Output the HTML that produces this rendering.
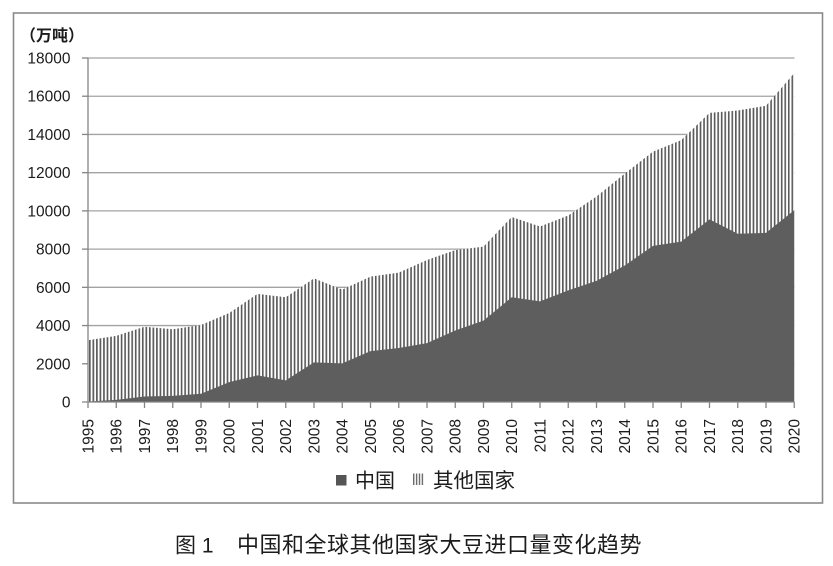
<!DOCTYPE html>
<html>
<head>
<meta charset="utf-8">
<style>
  html, body { margin:0; padding:0; background:#ffffff; }
  body { width:833px; height:566px; overflow:hidden; }
  svg { display:block; }
  .ax { font-family:"Liberation Sans","Noto Sans CJK SC",sans-serif; font-size:15.5px; fill:#1c1c1c; }
  .cjk { font-family:"Liberation Sans","Noto Sans CJK SC",sans-serif; fill:#1c1c1c; }
</style>
</head>
<body>
<svg width="833" height="566" viewBox="0 0 833 566" xmlns="http://www.w3.org/2000/svg">
  <defs>
    <pattern id="vs" patternUnits="userSpaceOnUse" x="89" y="0" width="3.53" height="10">
      <rect x="0" y="0" width="3.53" height="10" fill="#ffffff"/>
      <rect x="0" y="0" width="1.65" height="10" fill="#5a5a5a"/>
    </pattern>
    <pattern id="vsl" patternUnits="userSpaceOnUse" x="413" y="0" width="2.9" height="10">
      <rect x="0" y="0" width="2.9" height="10" fill="#ffffff"/>
      <rect x="0" y="0" width="1.4" height="10" fill="#6a6a6a"/>
    </pattern>
  </defs>

  <!-- outer frame -->
  <rect x="13.5" y="13" width="809" height="490" fill="#ffffff" stroke="#8a8a8a" stroke-width="1.6"/>

  <!-- unit label -->
  <text x="20" y="41" class="cjk" font-size="16" font-weight="bold">（万吨）</text>

  <!-- gridlines -->
  <g stroke="#a3a3a3" stroke-width="1.3">
    <line x1="88" y1="58" x2="794.5" y2="58"/>
    <line x1="88" y1="96.22" x2="794.5" y2="96.22"/>
    <line x1="88" y1="134.44" x2="794.5" y2="134.44"/>
    <line x1="88" y1="172.67" x2="794.5" y2="172.67"/>
    <line x1="88" y1="210.89" x2="794.5" y2="210.89"/>
    <line x1="88" y1="249.11" x2="794.5" y2="249.11"/>
    <line x1="88" y1="287.33" x2="794.5" y2="287.33"/>
    <line x1="88" y1="325.56" x2="794.5" y2="325.56"/>
    <line x1="88" y1="363.78" x2="794.5" y2="363.78"/>
  </g>

  <!-- other countries (stacked total) -->
  <polygon fill="url(#vs)" points="88,402 88,340.27 116.25,335.88 144.5,326.70 172.75,329.19 201,324.98 229.25,312.94 257.5,293.83 285.75,297.27 314,278.35 342.25,289.63 370.5,276.63 398.75,272.62 427,260.01 455.25,250.07 483.5,246.63 511.75,217.00 540,226.56 568.25,215.48 596.5,196.56 624.75,173.62 653,151.64 681.25,140.18 709.5,112.85 737.75,110.56 766,105.78 794.25,73.10 794.25,402"/>

  <!-- China -->
  <polygon fill="#5e5e5e" points="88,402 88,401.45 116.25,399.88 144.5,396.50 172.75,395.88 201,393.74 229.25,382.09 257.5,375.36 285.75,380.37 314,362.36 342.25,363.34 370.5,351.18 398.75,347.97 427,343.10 455.25,330.45 483.5,320.68 511.75,297.27 540,301.40 568.25,290.43 596.5,280.87 624.75,265.55 653,245.88 681.25,241.64 709.5,219.43 737.75,233.77 766,232.85 794.25,210.26 794.25,402"/>

  <!-- axes -->
  <g stroke="#858585" stroke-width="1.3">
    <line x1="88" y1="58" x2="88" y2="402"/>
    <line x1="82" y1="402" x2="794.5" y2="402"/>
    <line x1="82" y1="58" x2="88" y2="58"/>
    <line x1="82" y1="96.22" x2="88" y2="96.22"/>
    <line x1="82" y1="134.44" x2="88" y2="134.44"/>
    <line x1="82" y1="172.67" x2="88" y2="172.67"/>
    <line x1="82" y1="210.89" x2="88" y2="210.89"/>
    <line x1="82" y1="249.11" x2="88" y2="249.11"/>
    <line x1="82" y1="287.33" x2="88" y2="287.33"/>
    <line x1="82" y1="325.56" x2="88" y2="325.56"/>
    <line x1="82" y1="363.78" x2="88" y2="363.78"/>
  </g>
  <g stroke="#858585" stroke-width="1.3">
    <line x1="88" y1="402" x2="88" y2="408"/>
    <line x1="116.25" y1="402" x2="116.25" y2="408"/>
    <line x1="144.5" y1="402" x2="144.5" y2="408"/>
    <line x1="172.75" y1="402" x2="172.75" y2="408"/>
    <line x1="201" y1="402" x2="201" y2="408"/>
    <line x1="229.25" y1="402" x2="229.25" y2="408"/>
    <line x1="257.5" y1="402" x2="257.5" y2="408"/>
    <line x1="285.75" y1="402" x2="285.75" y2="408"/>
    <line x1="314" y1="402" x2="314" y2="408"/>
    <line x1="342.25" y1="402" x2="342.25" y2="408"/>
    <line x1="370.5" y1="402" x2="370.5" y2="408"/>
    <line x1="398.75" y1="402" x2="398.75" y2="408"/>
    <line x1="427" y1="402" x2="427" y2="408"/>
    <line x1="455.25" y1="402" x2="455.25" y2="408"/>
    <line x1="483.5" y1="402" x2="483.5" y2="408"/>
    <line x1="511.75" y1="402" x2="511.75" y2="408"/>
    <line x1="540" y1="402" x2="540" y2="408"/>
    <line x1="568.25" y1="402" x2="568.25" y2="408"/>
    <line x1="596.5" y1="402" x2="596.5" y2="408"/>
    <line x1="624.75" y1="402" x2="624.75" y2="408"/>
    <line x1="653" y1="402" x2="653" y2="408"/>
    <line x1="681.25" y1="402" x2="681.25" y2="408"/>
    <line x1="709.5" y1="402" x2="709.5" y2="408"/>
    <line x1="737.75" y1="402" x2="737.75" y2="408"/>
    <line x1="766" y1="402" x2="766" y2="408"/>
    <line x1="794.25" y1="402" x2="794.25" y2="408"/>
  </g>

  <!-- y labels -->
  <g class="ax" text-anchor="end">
    <text x="70.5" y="63.5">18000</text>
    <text x="70.5" y="101.7">16000</text>
    <text x="70.5" y="139.9">14000</text>
    <text x="70.5" y="178.2">12000</text>
    <text x="70.5" y="216.4">10000</text>
    <text x="70.5" y="254.6">8000</text>
    <text x="70.5" y="292.8">6000</text>
    <text x="70.5" y="331.1">4000</text>
    <text x="70.5" y="369.3">2000</text>
    <text x="70.5" y="407.5">0</text>
  </g>

  <!-- x labels (rotated) -->
  <g class="ax" text-anchor="end" font-size="15">
    <text transform="translate(93.4,419) rotate(-90)">1995</text>
    <text transform="translate(121.65,419) rotate(-90)">1996</text>
    <text transform="translate(149.9,419) rotate(-90)">1997</text>
    <text transform="translate(178.15,419) rotate(-90)">1998</text>
    <text transform="translate(206.4,419) rotate(-90)">1999</text>
    <text transform="translate(234.65,419) rotate(-90)">2000</text>
    <text transform="translate(262.9,419) rotate(-90)">2001</text>
    <text transform="translate(291.15,419) rotate(-90)">2002</text>
    <text transform="translate(319.4,419) rotate(-90)">2003</text>
    <text transform="translate(347.65,419) rotate(-90)">2004</text>
    <text transform="translate(375.9,419) rotate(-90)">2005</text>
    <text transform="translate(404.15,419) rotate(-90)">2006</text>
    <text transform="translate(432.4,419) rotate(-90)">2007</text>
    <text transform="translate(460.65,419) rotate(-90)">2008</text>
    <text transform="translate(488.9,419) rotate(-90)">2009</text>
    <text transform="translate(517.15,419) rotate(-90)">2010</text>
    <text transform="translate(545.4,419) rotate(-90)">2011</text>
    <text transform="translate(573.65,419) rotate(-90)">2012</text>
    <text transform="translate(601.9,419) rotate(-90)">2013</text>
    <text transform="translate(630.15,419) rotate(-90)">2014</text>
    <text transform="translate(658.4,419) rotate(-90)">2015</text>
    <text transform="translate(686.65,419) rotate(-90)">2016</text>
    <text transform="translate(714.9,419) rotate(-90)">2017</text>
    <text transform="translate(743.15,419) rotate(-90)">2018</text>
    <text transform="translate(771.4,419) rotate(-90)">2019</text>
    <text transform="translate(799.65,419) rotate(-90)">2020</text>
  </g>

  <!-- legend -->
  <rect x="336" y="475" width="10.5" height="10.5" fill="#555555"/>
  <text x="355" y="487.5" class="cjk" font-size="20">中国</text>
  <rect x="413" y="473.5" width="11.5" height="11.5" fill="url(#vsl)"/>
  <text x="433" y="487.5" class="cjk" font-size="20.5">其他国家</text>

  <!-- caption -->
  <text x="175" y="552.5" class="cjk" font-size="21" fill="#1a1a1a">图 1</text>
  <text x="237" y="552.5" class="cjk" font-size="22" letter-spacing="0.5" fill="#1a1a1a">中国和全球其他国家大豆进口量变化趋势</text>
</svg>
</body>
</html>
